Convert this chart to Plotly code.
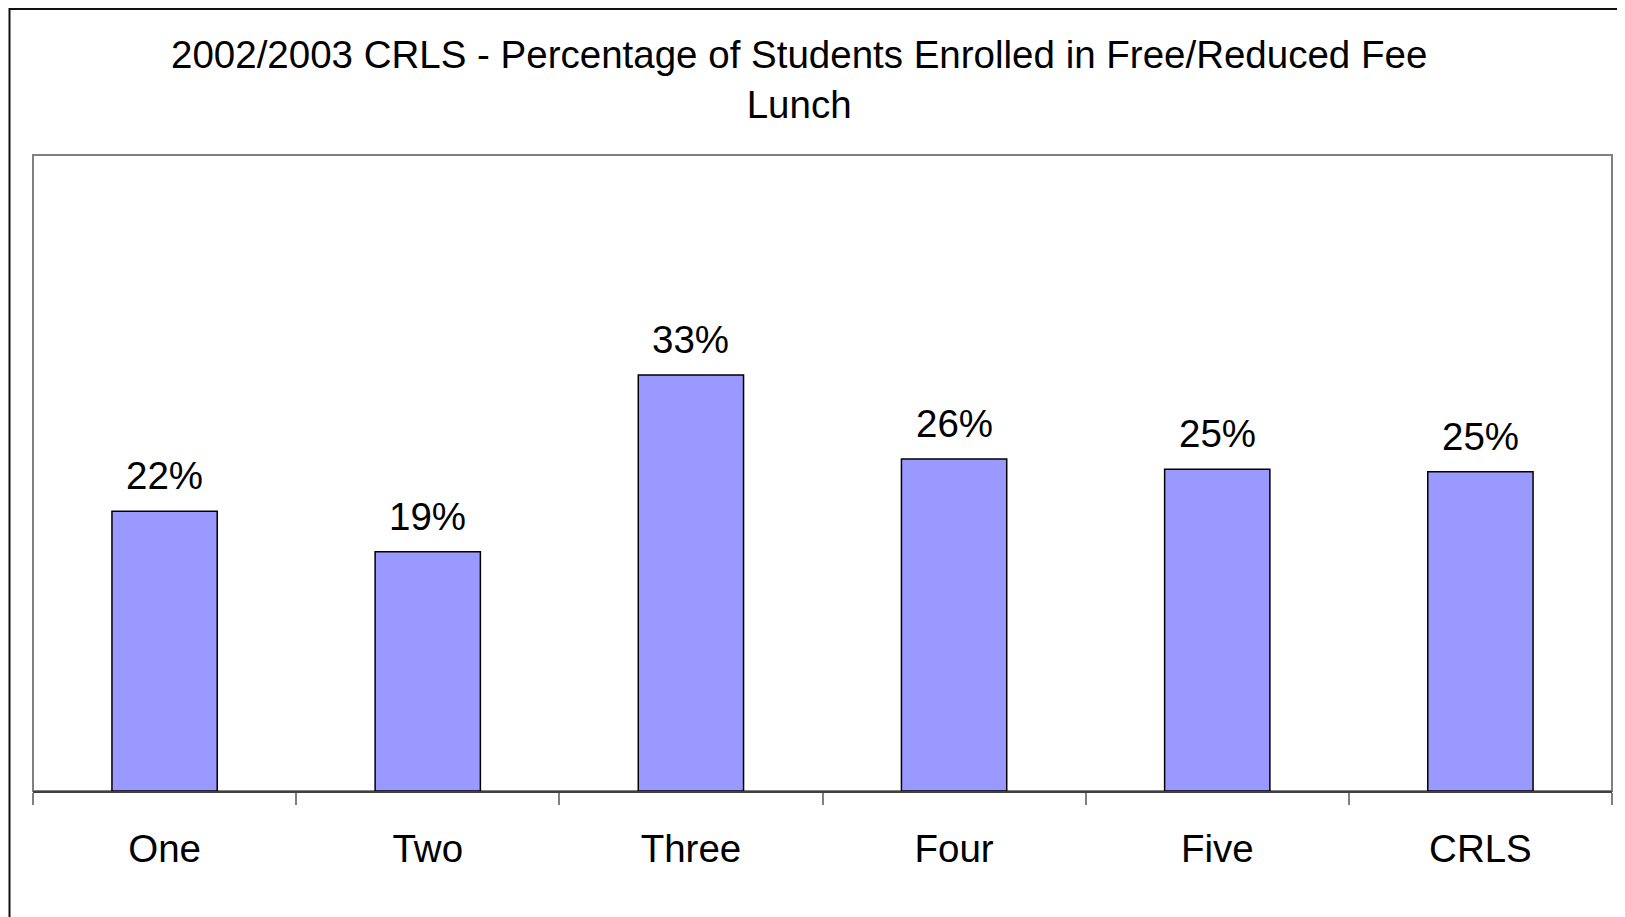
import plotly.graph_objects as go

# values (fraction of students)
grades = ["One", "Two", "Three", "Four", "Five", "CRLS"]
pct_free_reduced = [0.220, 0.188, 0.327, 0.261, 0.253, 0.251]
pct_labels = ["22%", "19%", "33%", "26%", "25%", "25%"]

# page has an 8px body margin, so figure coords = page coords - 8
W, H = 1625, 917
L, R, T, B = 25, 21, 147, 134
plot_w = W - L - R
plot_h = H - T - B

font = "Liberation Sans, Arial, sans-serif"
fs = 38.5

fig = go.Figure()
fig.add_trace(go.Bar(
    x=grades,
    y=pct_free_reduced,
    marker=dict(color="#9999FF", line=dict(color="#000000", width=1.5)),
    hoverinfo="skip",
))

# data labels above each bar
for g, v, lab in zip(grades, pct_free_reduced, pct_labels):
    fig.add_annotation(x=g, y=v, text=lab, showarrow=False, yanchor="bottom",
                       yshift=12, font=dict(family=font, size=fs, color="#000000"))

# outer chart border (only left/top are visible in the crop)
fig.add_shape(type="rect", xref="paper", yref="paper",
              x0=(1.5 - L) / plot_w, x1=(W + 40 - L) / plot_w,
              y0=-(H + 40 - T - plot_h) / plot_h, y1=(T + plot_h - 1) / plot_h,
              line=dict(color="#111111", width=2), layer="below")
# plot area frame
fig.add_shape(type="rect", xref="paper", yref="paper", x0=0, x1=1, y0=0, y1=1,
              line=dict(color="#808080", width=2), layer="below")

fig.add_annotation(xref="paper", yref="paper",
                   x=(791 - L) / plot_w, y=(T + plot_h - 71.5) / plot_h,
                   text="2002/2003 CRLS - Percentage of Students Enrolled in Free/Reduced Fee<br>Lunch",
                   showarrow=False, xanchor="center", yanchor="middle",
                   font=dict(family=font, size=fs, color="#000000"))

fig.update_layout(
    width=W, height=H,
    margin=dict(l=L, r=R, t=T, b=B, pad=0),
    paper_bgcolor="white", plot_bgcolor="white",
    bargap=0.6,
    showlegend=False,
    font=dict(family=font, color="#000000"),
)
fig.update_xaxes(
    showline=True, linecolor="#404040", linewidth=2,
    ticks="outside", tickson="boundaries", ticklen=12, tickcolor="#808080", tickwidth=2,
    tickfont=dict(family=font, size=fs, color="#000000"),
    ticklabelstandoff=23,
    showgrid=False,
)
fig.update_yaxes(range=[0, 0.5], visible=False, showgrid=False, zeroline=False)

fig.write_html("out.html")
